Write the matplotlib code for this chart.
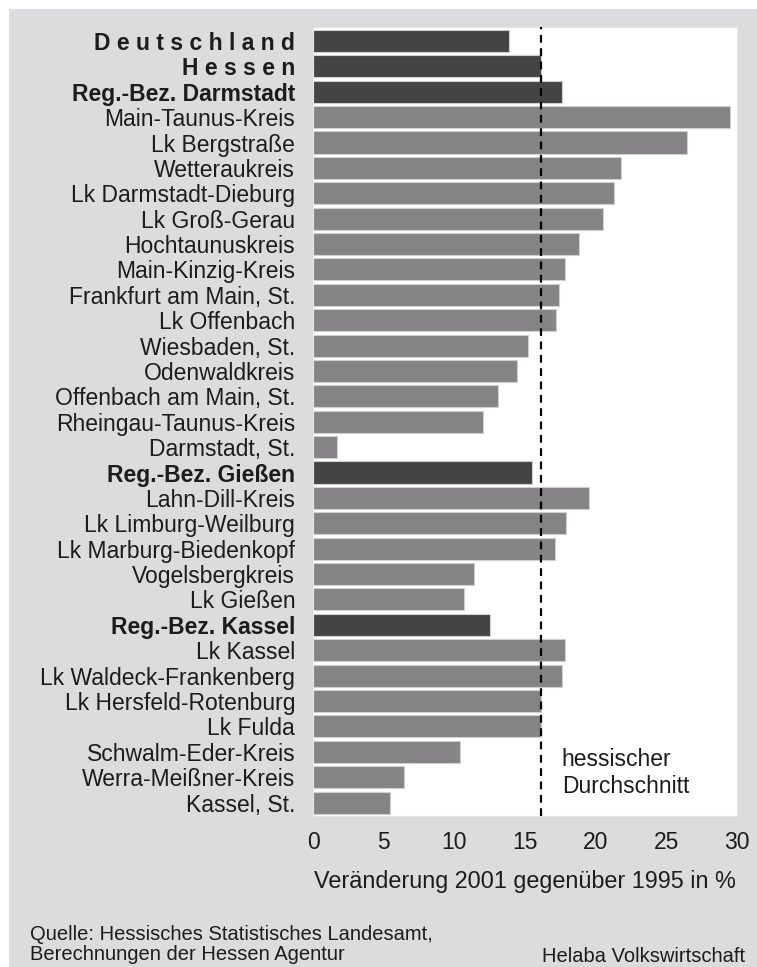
import matplotlib.pyplot as plt
from matplotlib.patches import Rectangle

# --------------------------------------------------------
# Daten (Veränderung 2001 gegenüber 1995 in %)
# --------------------------------------------------------

regions = [
    "Deutschland", "Hessen", "Reg.-Bez. Darmstadt",
    "Main-Taunus-Kreis", "Lk Bergstraße", "Wetteraukreis",
    "Lk Darmstadt-Dieburg", "Lk Groß-Gerau", "Hochtaunuskreis",
    "Main-Kinzig-Kreis", "Frankfurt am Main, St.", "Lk Offenbach",
    "Wiesbaden, St.", "Odenwaldkreis", "Offenbach am Main, St.",
    "Rheingau-Taunus-Kreis", "Darmstadt, St.",
    "Reg.-Bez. Gießen",
    "Lahn-Dill-Kreis", "Lk Limburg-Weilburg", "Lk Marburg-Biedenkopf",
    "Vogelsbergkreis", "Lk Gießen",
    "Reg.-Bez. Kassel",
    "Lk Kassel", "Lk Waldeck-Frankenberg", "Lk Hersfeld-Rotenburg",
    "Lk Fulda", "Schwalm-Eder-Kreis", "Werra-Meißner-Kreis", "Kassel, St.",
]

change = [
    13.9, 16.1, 17.6,
    29.5, 26.5, 21.8,
    21.3, 20.5, 18.8,
    17.8, 17.4, 17.2,
    15.2, 14.4, 13.1,
    12.0, 1.7,
    15.5,
    19.5, 17.9, 17.1,
    11.4, 10.7,
    12.5,
    17.8, 17.6, 16.1,
    16.1, 10.4, 6.4, 5.4,
]

# Ebene: 0 = Bund/Land, 1 = Regierungsbezirk, 2 = Kreis
level = [
    0, 0, 1,
    2, 2, 2, 2, 2, 2, 2, 2, 2, 2, 2, 2, 2, 2,
    1,
    2, 2, 2, 2, 2,
    1,
    2, 2, 2, 2, 2, 2, 2,
]

hessen_avg = 16.15
xticks = [0, 5, 10, 15, 20, 25, 30]

# --------------------------------------------------------
# Grafik
# --------------------------------------------------------

plt.rcParams['font.family'] = ['Liberation Sans', 'DejaVu Sans']
txt_color = '#1c1c1c'

fig = plt.figure(figsize=(7.57, 9.67), dpi=100)
fig.patch.set_facecolor('white')

# grauer Hintergrund mit weißem Rand oben/links
bg = Rectangle((9 / 757, 0), 1, 1 - 9 / 967, transform=fig.transFigure,
               facecolor='#dcdbde', edgecolor='none', zorder=-10)
fig.add_artist(bg)

ax = fig.add_axes([313.3 / 757, 1 - 816 / 967,
                   (736.7 - 313.3) / 757, (816 - 27) / 967])
ax.set_facecolor('white')

colors = ['#444444' if lv < 2 else '#858385' for lv in level]
pos = list(range(len(regions)))
ax.barh(pos, change, height=0.87, color=colors,
        edgecolor='#cfcfcf', linewidth=0.8, zorder=2)

ax.axvline(hessen_avg, color='black', linewidth=1.6,
           linestyle=(0, (3.5, 2.5)), zorder=3)

ax.set_xlim(0, 30)
ax.set_ylim(len(regions) - 0.47, -0.55)

# Beschriftungen
labels = []
for name, lv in zip(regions, level):
    if lv == 0:
        labels.append(" ".join(name))
    else:
        labels.append(name)
ax.set_yticks(pos)
ax.set_yticklabels(labels, fontsize=16.5, color=txt_color)
for tl, lv in zip(ax.get_yticklabels(), level):
    if lv < 2:
        tl.set_fontweight('bold')

ax.set_xticks(xticks)
ax.set_xticklabels([str(t) for t in xticks], fontsize=16.5, color=txt_color)
ax.tick_params(axis='both', length=0)
ax.tick_params(axis='y', pad=13)
ax.tick_params(axis='x', pad=11)

for s in ax.spines.values():
    s.set_color('#e6e6e6')
    s.set_linewidth(0.8)

ax.set_xlabel("Veränderung 2001 gegenüber 1995 in %", fontsize=16.8,
              color=txt_color, labelpad=11)

ax.text(17.6, 27.85, "hessischer\nDurchschnitt", fontsize=16.5,
        color=txt_color, va='top', ha='left', linespacing=1.25, zorder=4)

# Quellenangaben
fig.text(30 / 757, 1 - 935 / 967, "Quelle: Hessisches Statistisches Landesamt,",
         fontsize=14.5, color=txt_color, va='center', ha='left')
fig.text(30 / 757, 1 - 955 / 967, "Berechnungen der Hessen Agentur",
         fontsize=14.5, color=txt_color, va='center', ha='left')
fig.text(745 / 757, 1 - 957 / 967, "Helaba Volkswirtschaft",
         fontsize=14.5, color=txt_color, va='center', ha='right')

plt.savefig("out.png", dpi=100, facecolor=fig.get_facecolor())
